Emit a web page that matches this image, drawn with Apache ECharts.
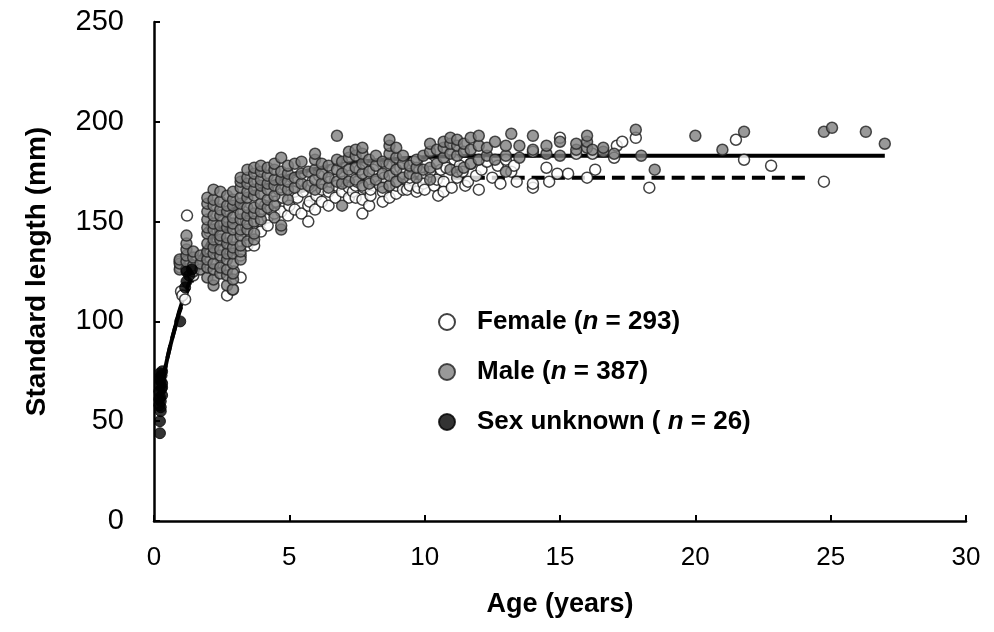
<!DOCTYPE html>
<html>
<head>
<meta charset="utf-8">
<title>Standard length vs age</title>
<script src="https://cdn.jsdelivr.net/npm/echarts@6.0.0/dist/echarts.min.js"></script>
<style>
  html, body { margin: 0; padding: 0; background: #fff; }
  #chart { width: 994px; height: 632px; }
</style>
</head>
<body>
<div id="chart"></div>
<script>
// x ticks / y ticks
var xTicks = [0, 5, 10, 15, 20, 25, 30];
var yTicks = [0, 50, 100, 150, 200, 250];

// legend labels
var legendNames = ['Female', 'Male', 'Sex unknown'];
var legendCounts = [293, 387, 26];

// female points [age, length]
var female = [
  [0.95,130],[0.97,127],[1.0,115],[1.05,113],[1.15,111],[1.22,153],[1.2,132],[1.3,129],[1.45,123],[1.5,127],
  [1.75,130],[1.95,130],[2.0,127],[2.05,145],[2.1,131],[2.2,126],[2.3,129],[2.35,140],[2.45,132],[2.55,150],
  [2.7,113],[2.75,136],[2.9,116],[2.9,136],[2.95,125],[3.0,147],[3.2,133],[3.2,122],[3.2,140],[3.3,155],
  [3.4,150],[3.45,144],[3.45,138],[3.7,138],[3.7,145],
  [3.95,150],[3.95,145],[4.0,155],[4.1,158],[4.2,152],[4.2,148],[4.3,156],[4.45,154],[4.45,160],[4.5,160],
  [4.6,166],[4.7,155],[4.75,162],[4.85,168],[4.95,153],[5.0,158],[5.2,156],[5.2,165],[5.3,162],[5.3,170],
  [5.45,154],[5.5,165],[5.7,150],[5.7,158],[5.75,160],[5.8,167],[5.85,170],[5.95,156],[6.0,163],[6.1,173],
  [6.2,166],[6.2,160],[6.45,165],[6.45,158],[6.5,170],[6.6,176],[6.7,162],[6.7,171],[6.75,168],[6.95,165],
  [7.0,170],[7.1,177],[7.2,167],[7.2,162],[7.25,173],[7.35,165],[7.45,162],[7.45,168],[7.5,170],[7.6,176],
  [7.7,154],[7.7,161],[7.75,167],[7.95,158],[7.95,170],[8.0,163],[8.0,166],[8.1,176],[8.2,170],[8.35,168],
  [8.45,165],[8.45,160],[8.5,172],[8.6,178],[8.7,162],[8.7,168],[8.95,164],[8.95,168],[9.0,170],[9.1,177],
  [9.2,174],[9.2,166],[9.35,166],[9.45,168],[9.45,172],[9.6,180],[9.7,165],[9.75,167],[9.95,172],[9.95,169],
  [10.0,166],[10.1,179],[10.2,175],[10.35,168],[10.45,171],[10.5,163],[10.6,176],[10.7,170],[10.7,165],[10.8,177],
  [11.0,167],[11.1,181],[11.2,172],[11.3,178],[11.4,175],[11.5,168],[11.6,170],[11.7,179],[11.9,173],
  [12.0,166],[12.1,176],[12.3,180],[12.5,172],[12.7,178],[12.8,169],[13.0,181],[13.2,175],[13.3,178],[13.4,170],
  [14.0,185],[14.0,167],[14.0,169],[14.5,177],[14.6,170],[14.9,174],[15.0,192],[15.3,174],[15.6,184],[16.0,172],
  [16.2,184],[16.3,176],[17.0,182],[17.1,188],[17.3,190],[17.8,192],[18.3,167],
  [21.5,191],[21.8,181],[22.8,178],[24.75,170]
];

// male points, one column per age: [age, [lengths]]
var maleCols = [
  [0.95, [126,129,131]],
  [1.2, [126,130,133,136,139,143]],
  [1.45, [125,128,132,135]],
  [1.72, [126,129,133]],
  [1.97, [122,127,131,135,139,144,147,151,155,159,162]],
  [2.2, [118,121,126,129,134,137,141,146,149,153,158,161,166]],
  [2.45, [124,127,133,136,141,143,148,153,156,160,165]],
  [2.7, [118,123,126,131,134,139,142,147,150,155,158,163]],
  [2.92, [116,121,124,129,134,137,141,146,149,152,158,161,165]],
  [3.2, [131,135,138,143,146,151,154,159,162,167,170,172]],
  [3.45, [140,146,149,153,157,162,165,169,172,176]],
  [3.7, [141,144,150,154,157,163,166,170,174,177]],
  [3.95, [151,155,159,164,168,171,175,178]],
  [4.2, [157,161,166,169,173,177]],
  [4.45, [152,158,163,168,171,176,179]],
  [4.7, [146,148,166,171,175,182]],
  [4.95, [161,166,170,174,178]],
  [5.2, [167,172,179]],
  [5.45, [169,174,180]],
  [5.7, [168,175]],
  [5.95, [166,171,176,181,184]],
  [6.2, [169,174,179]],
  [6.45, [167,172,178]],
  [6.76, [170,176,181,193]],
  [6.95, [158,169,174,180]],
  [7.2, [170,176,182,185]],
  [7.45, [171,177,183,186]],
  [7.7, [168,174,179,184,187]],
  [7.95, [169,175,181]],
  [8.2, [171,178,183]],
  [8.45, [167,174,180]],
  [8.7, [168,173,179,184,188,191]],
  [8.95, [170,176,182,187]],
  [9.2, [172,179,183]],
  [9.45, [174,178]],
  [9.7, [172,177,181]],
  [9.95, [176,183]],
  [10.2, [171,177,185,189]],
  [10.45, [179,186]],
  [10.7, [182,187,190]],
  [10.95, [176,184,189,192]],
  [11.2, [175,183,188,191]],
  [11.45, [177,185,189]],
  [11.7, [179,186,192]],
  [12.0, [181,188,193]],
  [12.3, [183,187]],
  [12.6, [181,190]],
  [13.0, [175,183,188]],
  [13.2, [194]],
  [13.5, [182,188]],
  [14.0, [186,193]],
  [14.5, [184,188]],
  [15.0, [183,190]],
  [15.6, [186,189]],
  [16.0, [187,190,193]],
  [16.2, [186]],
  [16.6, [185,187]],
  [17.0, [184]],
  [17.8, [196]],
  [18.0, [183]],
  [18.5, [176]],
  [20.0, [193]],
  [21.0, [186]],
  [21.8, [195]],
  [24.75, [195]],
  [25.05, [197]],
  [26.3, [195]],
  [27.0, [189]]
];

// sex unknown points [age, length]
var unknown = [
  [0.22,44],[0.22,50],[0.25,55],[0.25,57],[0.2,58],[0.25,60],[0.2,61],[0.22,62],[0.3,63],[0.2,65],
  [0.27,66],[0.3,67],[0.22,68],[0.3,69],[0.25,70],[0.22,71],[0.22,72],[0.28,73],[0.22,74],[0.3,75],
  [0.97,100],[1.15,117],[1.2,120],[1.3,123],[1.4,126],[1.2,125]
];

// growth curves [age, length]
var maleCurve = [
  [0.2,62],[0.5,82],[0.8,98],[1.0,108],[1.5,126],[2.0,139],[2.5,148],[3.0,157],[4.0,167],[5.0,173],
  [6.0,176.5],[7.0,179],[8.0,180.5],[9.0,181.5],[10.0,182.3],[12.0,183],[15.0,183],[20.0,183],[27.0,183]
];
var femaleCurve = [
  [0.2,62],[0.5,82],[0.8,98],[1.0,107],[1.5,123],[2.0,135],[2.5,143],[3.0,150],[4.0,158],[5.0,163.5],
  [6.0,167],[7.0,169.5],[8.0,171],[9.0,171.7],[10.0,172],[12.0,172],[15.0,172],[20.0,172],[24.2,172]
];

var male = [];
maleCols.forEach(function (c) {
  c[1].forEach(function (v) { male.push([c[0], v]); });
});

var font = "'Liberation Sans', Arial, sans-serif";

var chart = echarts.init(document.getElementById('chart'));
chart.setOption({
  animation: false,
  textStyle: { fontFamily: font },
  grid: { left: 154, right: 28, top: 22, bottom: 111 },
  legend: {
    orient: 'vertical',
    left: 433,
    top: 304,
    itemWidth: 16,
    itemHeight: 16,
    itemGap: 24,
    data: legendNames,
    formatter: function (name) {
      var i = legendNames.indexOf(name);
      var open = name === 'Sex unknown' ? ' ( ' : ' (';
      return '{b|' + name + open + '}{i|n}{b| = ' + legendCounts[i] + ')}';
    },
    textStyle: {
      padding: [0, 0, 0, 17],
      rich: {
        b: { fontFamily: font, fontWeight: 'bold', fontSize: 26, color: '#000' },
        i: { fontFamily: font, fontWeight: 'bold', fontStyle: 'italic', fontSize: 26, color: '#000' }
      }
    }
  },
  xAxis: {
    type: 'value',
    min: xTicks[0],
    max: xTicks[xTicks.length - 1],
    interval: 5,
    name: 'Age (years)',
    nameLocation: 'middle',
    nameGap: 70,
    nameTextStyle: { fontFamily: font, fontWeight: 'bold', fontSize: 27, color: '#000' },
    axisLine: { lineStyle: { color: '#000', width: 2.5 } },
    axisTick: { inside: true, length: 6, lineStyle: { color: '#000', width: 2 } },
    axisLabel: { margin: 24, fontFamily: font, fontSize: 26, color: '#000' },
    splitLine: { show: false }
  },
  yAxis: {
    type: 'value',
    min: yTicks[0],
    max: yTicks[yTicks.length - 1],
    interval: 50,
    name: 'Standard length (mm)',
    nameLocation: 'middle',
    nameGap: 103,
    nameTextStyle: { fontFamily: font, fontWeight: 'bold', fontSize: 28, color: '#000' },
    axisLine: { show: true, lineStyle: { color: '#000', width: 2.5 } },
    axisTick: { show: true, inside: true, length: 6, lineStyle: { color: '#000', width: 2 } },
    axisLabel: { margin: 30, fontFamily: font, fontSize: 29, color: '#000' },
    splitLine: { show: false }
  },
  series: [
    {
      name: 'Male curve',
      type: 'line',
      data: maleCurve,
      smooth: true,
      showSymbol: false,
      z: 1,
      lineStyle: { color: '#000', width: 4 }
    },
    {
      name: 'Female curve',
      type: 'line',
      data: femaleCurve,
      smooth: true,
      showSymbol: false,
      z: 1,
      lineStyle: { color: '#000', width: 4, type: [13, 7] }
    },
    {
      name: 'Female',
      type: 'scatter',
      data: female,
      symbol: 'circle',
      symbolSize: 11,
      z: 2,
      itemStyle: { color: '#fff', borderColor: '#111', borderWidth: 1.5 }
    },
    {
      name: 'Male',
      type: 'scatter',
      data: male,
      symbol: 'circle',
      symbolSize: 11,
      z: 3,
      itemStyle: { color: '#808080', borderColor: '#222', borderWidth: 1.5 }
    },
    {
      name: 'Sex unknown',
      type: 'scatter',
      data: unknown,
      symbol: 'circle',
      symbolSize: 11,
      z: 4,
      itemStyle: { color: '#000', borderColor: '#000', borderWidth: 1 }
    }
  ]
});
</script>
</body>
</html>
